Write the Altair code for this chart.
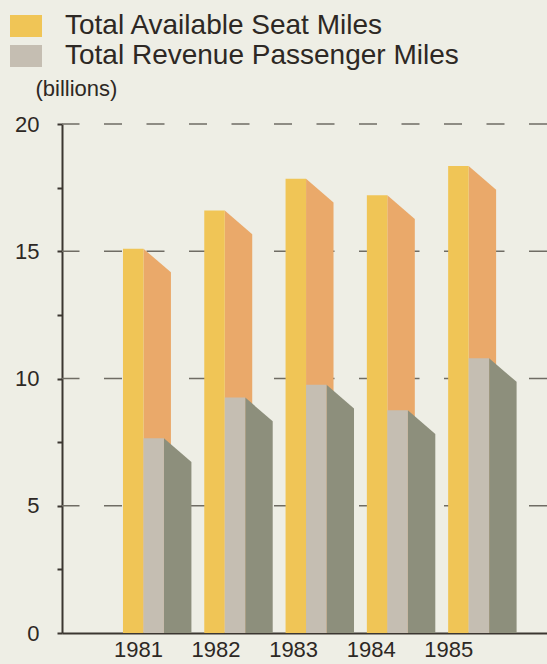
import altair as alt
import pandas as pd

# ---- data ----
years = [1981, 1982, 1983, 1984, 1985]
seat_miles = [15.1, 16.6, 17.85, 17.2, 18.35]        # Total Available Seat Miles (billions)
passenger_miles = [7.65, 9.25, 9.75, 8.75, 10.8]     # Total Revenue Passenger Miles (billions)
series_names = ["Total Available Seat Miles", "Total Revenue Passenger Miles"]
grid_values = [5, 10, 15, 20]
tick_values = [0, 2.5, 5, 7.5, 10, 12.5, 15, 17.5, 20]

# ---- pseudo-3D geometry (in data units) ----
FRONT = 0.252   # width of a bar's front face (years)
DEPTH = 0.338   # horizontal depth of the side face (years)
DROP = 0.93     # vertical drop of the side face top (billions)

BG = "#eeeee5"
DARK = "#3b3631"
TEXT = "#2d2824"
FONT = "Liberation Sans"

fronts, sides = [], []
for i, yr in enumerate(years):
    for s, (vals, start) in enumerate([(seat_miles, yr), (passenger_miles, yr + FRONT)]):
        v = vals[i]
        fronts.append({"year": yr, "series": series_names[s], "x": start,
                       "x2": start + FRONT, "top": v, "base": 0})
        sides.append({"key": f"{yr}-{s}", "series": series_names[s],
                      "x": start + FRONT, "top": v, "base": 0})
        sides.append({"key": f"{yr}-{s}", "series": series_names[s],
                      "x": start + FRONT + DEPTH, "top": v - DROP, "base": 0})
front_df = pd.DataFrame(fronts)
side_df = pd.DataFrame(sides)
grid_df = pd.DataFrame({"v": grid_values})

label_pos = [years[0] + 0.185 + 0.954 * i for i in range(len(years))]

xscale = alt.Scale(domain=[1980.25, 1986.216], nice=False, zero=False)
yscale = alt.Scale(domain=[0, 20], nice=False)

x_axis = alt.Axis(values=label_pos, labelExpr="'' + round(datum.value)", title=None,
                  grid=False, ticks=False, domainColor=DARK, domainWidth=2,
                  labelFont=FONT, labelFontSize=22, labelColor=TEXT, labelPadding=6)
y_axis = alt.Axis(values=tick_values,
                  labelExpr="datum.value % 5 == 0 ? datum.label : ''",
                  grid=False, tickSize=5, tickColor=DARK, tickWidth=2,
                  domainColor=DARK, domainWidth=2,
                  labelFont=FONT, labelFontSize=22, labelColor=TEXT, labelPadding=18,
                  title="(billions)", titleAngle=0, titleAlign="left",
                  titleBaseline="middle", titleX=-27, titleY=-36,
                  titleFont=FONT, titleFontSize=22, titleFontWeight="normal",
                  titleColor=TEXT)

grid = alt.Chart(grid_df).mark_rule(color="#6f6c64", strokeWidth=1.5,
                                    strokeDash=[18, 24.5]).encode(
    y=alt.Y("v:Q", scale=yscale, axis=y_axis)
)

side_colors = alt.Scale(domain=series_names, range=["#eaa96a", "#8d8f7c"])
front_colors = alt.Scale(domain=series_names, range=["#f0c556", "#c5beb2"])

def side_layer(name):
    return alt.Chart(side_df).transform_filter(
        alt.datum.series == name
    ).mark_area(orient="vertical", interpolate="linear").encode(
        x=alt.X("x:Q", scale=xscale, axis=x_axis),
        y=alt.Y("top:Q", scale=yscale, stack=None),
        y2="base:Q",
        detail="key:N",
        fill=alt.Fill("series:N", scale=side_colors, legend=None),
    )

def front_layer(name, legend):
    return alt.Chart(front_df).transform_filter(
        alt.datum.series == name
    ).mark_rect().encode(
        x=alt.X("x:Q", scale=xscale),
        x2="x2:Q",
        y=alt.Y("top:Q", scale=yscale),
        y2="base:Q",
        color=alt.Color("series:N", scale=front_colors, legend=legend),
    )

legend = alt.Legend(title=None, orient="none", legendX=-52, legendY=-114,
                    direction="vertical", padding=0, rowPadding=0,
                    symbolType="M-1,-0.6875H1V0.6875H-1Z", symbolSize=1024,
                    symbolStrokeWidth=0, labelOffset=23,
                    labelFont=FONT, labelFontSize=28, labelColor=TEXT,
                    labelLimit=600)

chart = alt.layer(
    grid,
    side_layer(series_names[0]),
    front_layer(series_names[0], legend),
    side_layer(series_names[1]),
    front_layer(series_names[1], legend),
).resolve_scale(fill="independent").properties(
    width=485, height=509,
    autosize=alt.AutoSizeParams(type="none"),
    padding={"left": 62, "top": 124, "right": 0, "bottom": 31},
    background=BG,
).configure_view(stroke=None)

chart.save("out.html", embed_options={"renderer": "svg", "actions": False})
